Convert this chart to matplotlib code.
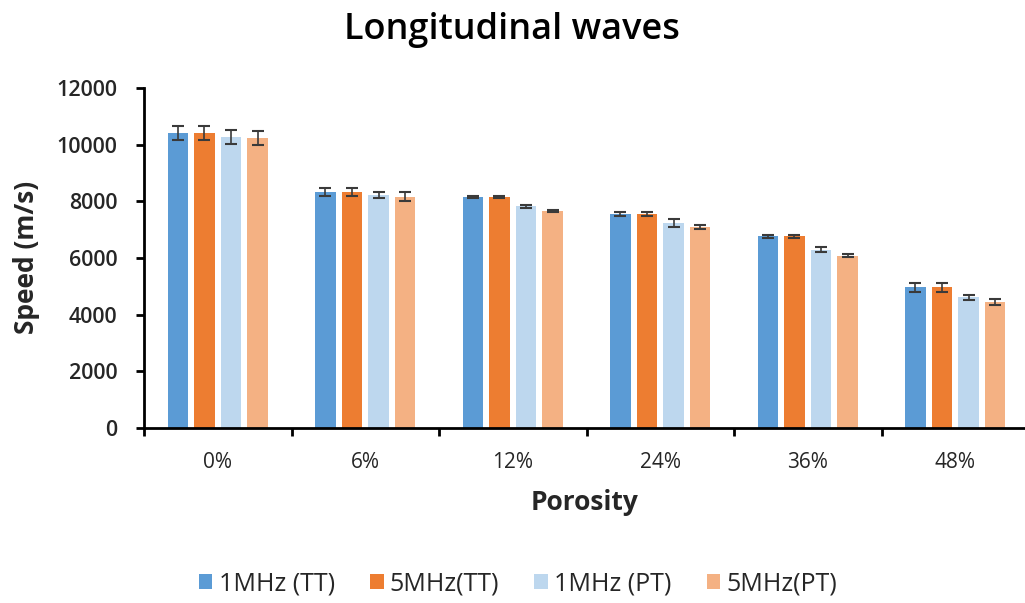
import numpy as np
import matplotlib
matplotlib.use("Agg")
import matplotlib.pyplot as plt

porosity = ["0%", "6%", "12%", "24%", "36%", "48%"]
series = ["1MHz (TT)", "5MHz(TT)", "1MHz (PT)", "5MHz(PT)"]
colors = ["#5B9BD5", "#ED7D31", "#BDD7EE", "#F4B183"]

tt_1mhz = [10400, 8330, 8150, 7560, 6760, 4960]
tt_5mhz = [10400, 8330, 8150, 7560, 6760, 4960]
pt_1mhz = [10280, 8220, 7820, 7240, 6300, 4610]
pt_5mhz = [10250, 8170, 7650, 7090, 6080, 4450]

err_tt_1mhz = [250, 150, 40, 80, 60, 150]
err_tt_5mhz = [250, 150, 40, 80, 50, 150]
err_pt_1mhz = [250, 100, 40, 150, 80, 80]
err_pt_5mhz = [250, 150, 30, 80, 50, 120]

values = [tt_1mhz, tt_5mhz, pt_1mhz, pt_5mhz]
errors = [err_tt_1mhz, err_tt_5mhz, err_pt_1mhz, err_pt_5mhz]

plt.rcParams['font.family'] = ['Open Sans', 'DejaVu Sans']
text_color = '#262626'

fig = plt.figure(figsize=(10.25, 6.03), dpi=100)
ax = fig.add_axes([144 / 1025, 1 - 428 / 603, (1029 - 144) / 1025, (428 - 88) / 603])

x = np.arange(len(porosity))
width = 0.138
step = 0.18
for i, (vals, errs) in enumerate(zip(values, errors)):
    offset = (i - 1.5) * step
    ax.bar(x + offset, vals, width, color=colors[i], label=series[i], zorder=2)
    ax.errorbar(x + offset, vals, yerr=errs, fmt='none', ecolor='#3a3a3a',
                elinewidth=1.2, capsize=4.5, capthick=1.5, zorder=3)

ax.set_xlim(-0.5, len(porosity) - 0.5)
ax.set_ylim(0, 12000)
ax.set_yticks(range(0, 12001, 2000))
ax.set_xticks(x)
ax.set_xticklabels(porosity, fontsize=15, color=text_color)
ax.set_xticks(np.arange(-0.5, len(porosity), 1), minor=True)
ax.tick_params(axis='x', which='major', length=0, pad=17)
ax.tick_params(axis='x', which='minor', length=6, width=2, color='black')
ax.tick_params(axis='y', length=6, width=2, labelsize=15.5, pad=13, labelcolor=text_color)
for lbl in ax.get_yticklabels():
    lbl.set_fontweight('semibold')

for side in ['top', 'right']:
    ax.spines[side].set_visible(False)
for side in ['left', 'bottom']:
    ax.spines[side].set_linewidth(2)

fig.text(27 / 1025, 1 - 257 / 603, "Speed (m/s)", fontsize=19, fontweight='bold',
         rotation=90, ha='center', va='center', color=text_color)
fig.text(585 / 1025, 1 - 502 / 603, "Porosity", fontsize=19, fontweight='bold',
         ha='center', va='center', color=text_color)
fig.text(512 / 1025, 1 - 30 / 603, "Longitudinal waves", fontsize=26,
         fontweight='semibold', ha='center', va='center', color='black')

handles, labels = ax.get_legend_handles_labels()
leg = fig.legend(handles, labels, loc='center', bbox_to_anchor=(518 / 1025, 1 - 584 / 603),
                 ncol=4, frameon=False, fontsize=18, handlelength=0.55, handleheight=0.55,
                 handletextpad=0.25, columnspacing=1.4)
for t in leg.get_texts():
    t.set_color(text_color)

fig.savefig("out.png", dpi=100)
